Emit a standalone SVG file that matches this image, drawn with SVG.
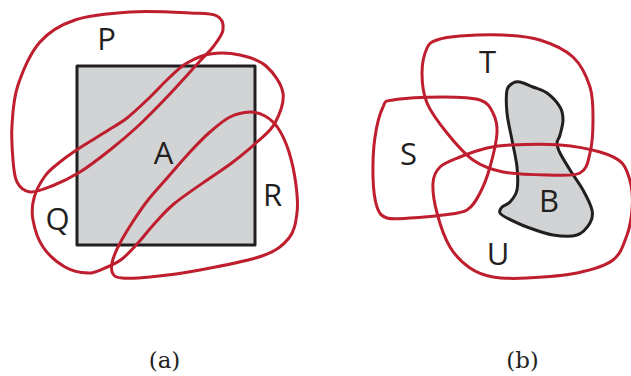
<svg xmlns="http://www.w3.org/2000/svg" width="631" height="376" viewBox="0 0 631 376">
<style>
.set{fill:none;stroke:#be1e2d;stroke-width:3;stroke-linejoin:round}
.reg{fill:#d1d3d4;stroke:#231f20;stroke-width:3;stroke-linejoin:round}
.lbl{font-family:"Open Sans","Noto Sans","DejaVu Sans",sans-serif;font-size:31px;fill:#231f20;text-anchor:middle}
.cap{font-family:"DejaVu Serif","Liberation Serif",serif;font-size:23px;fill:#231f20;text-anchor:middle}
</style>
<rect width="631" height="376" fill="#ffffff"/>
<g id="panel-a">
<g id="A"><rect class="reg" x="77" y="66" width="178" height="179"/><text class="lbl" x="163.5" y="164">A</text></g>
<g id="P"><path class="set" d="M30,192 C24.2,191.3 19.8,187.3 17,182 S13.8,169.5 13,160 S11.2,137.5 12,125 S13.3,98.8 18,85 S30.5,52.8 40,42 S60,25 75,20 S110.8,13.2 130,12 S175.5,12.3 190,13 S211.5,13.2 217,16 S223.7,24.8 223,30 S216.8,41.8 213,47 S207.7,52.7 200,61 S177.5,86 167,97 S146.5,118.2 137,127 S119.5,142.5 110,150 S89.7,166 80,172 S60.3,182.7 52,186 S35.8,192.7 30,192 Z"/><text class="lbl" x="106.5" y="50">P</text></g>
<g id="Q"><path class="set" d="M210,54 C218.8,52.7 230.7,53 240,55 S258.8,59.7 266,66 S281.5,83.5 283,93 S279.3,114.8 275,123 S264,135.5 257,142 S240.8,156 233,162 S219.7,171.2 210,178 S184.2,195.5 175,203 S161.2,216.3 155,223 S143.5,237 138,243 S127.5,254.8 122,259 S110.7,265.7 105,268 S94.7,273.2 88,273 S72.5,271.3 65,267 S48.3,254.8 43,247 S34.5,228.2 33,220 S32,205.3 34,198 S40.7,182 45,176 S54.5,166.5 60,162 S70.2,154.2 78,149 S98.8,136.2 107,131 S120.3,123.2 127,118 S139.8,106.8 147,100 S163.3,83.2 170,77 S180.3,66.8 187,63 S201.2,55.3 210,54 Z"/><text class="lbl" x="57.5" y="230">Q</text></g>
<g id="R"><path class="set" d="M250,112 C255.8,111.8 260.3,113.3 265,116 S274,122 278,128 S286,142.5 289,152 S294.7,174.8 296,185 S298.2,204.2 297,213 S294.8,230.8 289,238 S276.8,250.7 262,256 S218.7,266.5 200,270 S163,275.7 150,277 S128.2,278.5 122,278 S114.7,276.5 113,274 S111.2,267.5 112,263 S114.7,253.7 118,247 S127,230.8 132,223 S142,207.7 148,200 S161,185 168,177 S183,159.5 190,152 S203.3,137.8 210,132 S223.3,120.3 230,117 S244.2,112.2 250,112 Z"/><text class="lbl" x="272.5" y="206">R</text></g>
<text id="cap-a" class="cap" x="164.5" y="368">(a)</text>
</g>
<g id="panel-b">
<g id="B"><path class="reg" d="M513,83 C515.2,81.7 516.7,81.3 520,82 S528.5,85.2 533,87 S542.5,89.7 547,93 S557.3,102.5 560,107 S563,115.3 563,120 S561,131.2 560,135 S557,140 557,143 S557.8,148.5 560,153 S566.2,163.8 570,170 S579.3,183.3 583,190 S590.8,204.5 592,210 S592.5,218.8 590,223 S583.2,233 577,235 S561.3,236.3 553,235 S534.7,229.8 527,227 S511.5,220.3 507,218 S500.8,214.8 500,213 S500.3,208.8 502,207 S507.5,204.8 510,202 S515.8,195.8 517,190 S517.8,175.3 517,167 S513.7,149 512,140 S507.8,121.3 507,113 S506,95 507,90 S510.8,84.3 513,83 Z"/><text class="lbl" x="549" y="212">B</text></g>
<g id="T"><path class="set" d="M460,36 C471,35.2 489.7,34.3 503,35 S528.3,36.3 540,40 S564.7,49.2 573,57 S586.7,76.5 590,87 S593,109 593,120 S592.2,144.2 590,153 S587.2,169.3 580,173 S559.8,175.2 547,175 S515.3,174.5 503,172 S482.3,166.5 473,160 S454.7,142.5 447,133 S431.2,113 427,103 S422,82.2 422,73 S424.5,53.5 427,48 S431.5,42 437,40 S449,36.8 460,36 Z"/><text class="lbl" x="487.5" y="73">T</text></g>
<g id="S"><path class="set" d="M393,100 C403,98.3 428.5,97 443,97 S471.7,97.3 480,100 S490.2,107.5 493,113 S497.5,124 497,133 S492.8,157 490,167 S483.8,185.8 480,193 S473.2,206.3 467,210 S452.5,213.7 443,215 S419.3,217.5 410,218 S392.5,219.8 387,218 S379.3,213.8 377,207 S373.3,188.7 373,177 S373.3,148.7 375,137 S380,113.2 383,107 S383,101.7 393,100 Z"/><text class="lbl" x="408.5" y="165">S</text></g>
<g id="U"><path class="set" d="M510,145 C522.2,144.5 545,143.8 560,145 S589.7,149 600,152 S616.8,157.5 622,163 S629.3,177.2 631,185 S632.7,201.7 632,210 S630.2,226.7 627,235 S621.3,253.7 613,260 S591.3,270 577,273 S541,277.3 527,278 S502.5,278.7 493,277 S477.2,273 470,268 S455.5,256.2 450,247 S439.8,223.7 437,213 S432.5,190.7 433,183 S435.5,171.3 440,167 S452.2,160.2 460,157 S478.7,150 487,148 S497.8,145.5 510,145 Z"/><text class="lbl" x="498" y="265">U</text></g>
<text id="cap-b" class="cap" x="522.5" y="368">(b)</text>
</g>
<g id="connectors"/>
</svg>
